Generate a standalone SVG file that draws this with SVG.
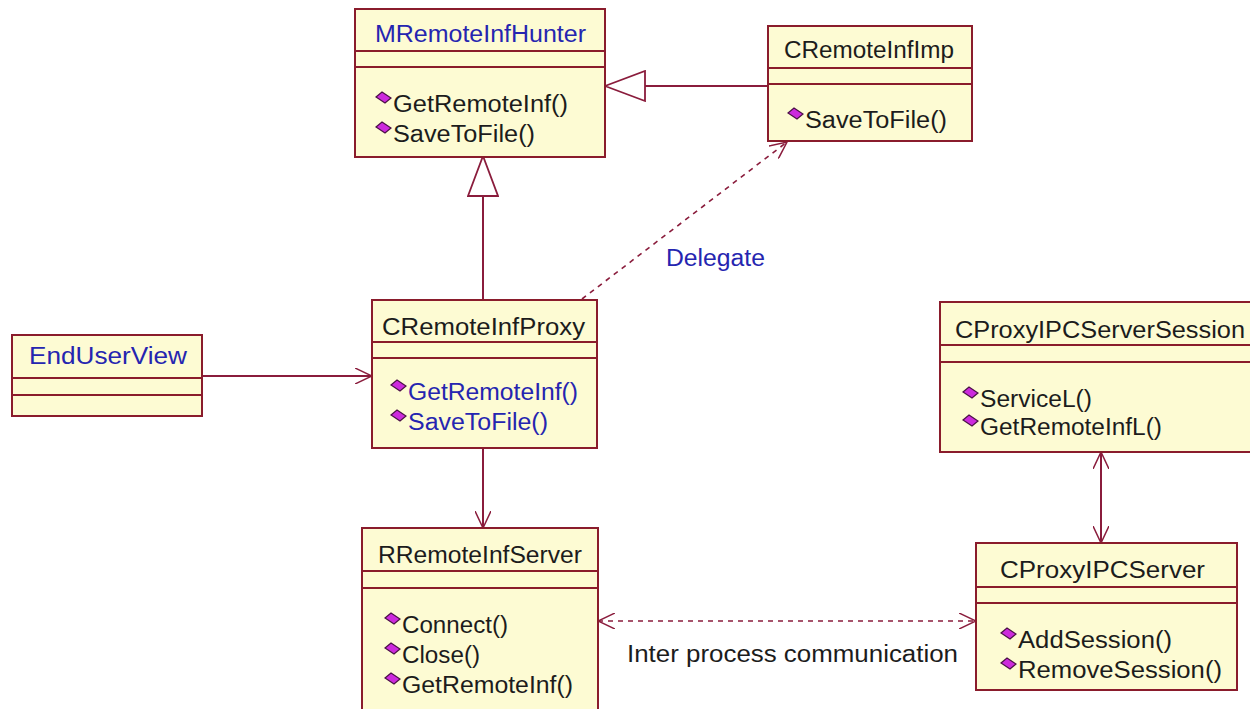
<svg xmlns="http://www.w3.org/2000/svg" width="1250" height="709" viewBox="0 0 1250 709">
<style>
.box{fill:#fdfbd3;stroke:#8a1c2c;stroke-width:2}
.sep{stroke:#8a1c2c;stroke-width:2}
.t{font-family:"Liberation Sans",Arial,sans-serif;font-size:23px;fill:#1c1c1c}
.b{fill:#2525b0}
.conn{stroke:#8a1c3c;stroke-width:2;fill:none}
.dash{stroke-dasharray:5 5;stroke-width:1.6}
.dia{fill:#cc2add;stroke:#4a1046;stroke-width:1.2}
</style>
<defs>
<path id="d" class="dia" d="M-8,-1 L-2,-6 L7,0 L1,5 Z"/>
<marker id="open" viewBox="0 0 18 16" refX="17" refY="8" markerWidth="18" markerHeight="16" markerUnits="userSpaceOnUse" orient="auto-start-reverse"><path d="M0,0 L17,8 L0,16" fill="none" stroke="#8a1c3c" stroke-width="1.5"/></marker>
<marker id="tri" viewBox="0 0 42 32" refX="41" refY="16" markerWidth="42" markerHeight="32" markerUnits="userSpaceOnUse" orient="auto"><path d="M1,1 L41,16 L1,31 Z" fill="#ffffff" stroke="#8a1c3c" stroke-width="1.8"/></marker>
</defs>
<rect width="1250" height="709" fill="#ffffff"/>

<g id="connectors">
<line class="conn" x1="768" y1="86" x2="605" y2="86" marker-end="url(#tri)"/>
<line class="conn" x1="483" y1="300" x2="483" y2="156" marker-end="url(#tri)"/>
<line class="conn" x1="202" y1="376" x2="372" y2="376" marker-end="url(#open)"/>
<line class="conn" x1="483" y1="448" x2="483" y2="528" marker-end="url(#open)"/>
<line class="conn dash" x1="582" y1="299" x2="787" y2="142" marker-end="url(#open)"/>
<line class="conn dash" x1="598" y1="621" x2="976" y2="621" marker-start="url(#open)" marker-end="url(#open)"/>
<line class="conn" x1="1101" y1="452" x2="1101" y2="543" marker-start="url(#open)" marker-end="url(#open)"/>
<text class="t b" x="666" y="266" textLength="99" lengthAdjust="spacingAndGlyphs">Delegate</text>
<text class="t" x="627" y="662" textLength="331" lengthAdjust="spacingAndGlyphs">Inter process communication</text>
</g>

<g id="MRemoteInfHunter">
<rect class="box" x="355" y="9" width="250" height="148"/>
<line class="sep" x1="355" y1="51" x2="605" y2="51"/>
<line class="sep" x1="355" y1="67" x2="605" y2="67"/>
<text class="t b" x="375" y="42" textLength="211" lengthAdjust="spacingAndGlyphs">MRemoteInfHunter</text>
<use href="#d" x="384" y="98"/>
<text class="t" x="393" y="112" textLength="175" lengthAdjust="spacingAndGlyphs">GetRemoteInf()</text>
<use href="#d" x="384" y="128"/>
<text class="t" x="393" y="142" textLength="142" lengthAdjust="spacingAndGlyphs">SaveToFile()</text>
</g>

<g id="CRemoteInfImp">
<rect class="box" x="768" y="26" width="204" height="115"/>
<line class="sep" x1="768" y1="68" x2="972" y2="68"/>
<line class="sep" x1="768" y1="84" x2="972" y2="84"/>
<text class="t" x="784" y="58" textLength="170" lengthAdjust="spacingAndGlyphs">CRemoteInfImp</text>
<use href="#d" x="796" y="114"/>
<text class="t" x="805" y="128" textLength="142" lengthAdjust="spacingAndGlyphs">SaveToFile()</text>
</g>

<g id="EndUserView">
<rect class="box" x="12" y="335" width="190" height="81"/>
<line class="sep" x1="12" y1="378" x2="202" y2="378"/>
<line class="sep" x1="12" y1="395" x2="202" y2="395"/>
<text class="t b" x="29" y="364" textLength="158" lengthAdjust="spacingAndGlyphs">EndUserView</text>
</g>

<g id="CRemoteInfProxy">
<rect class="box" x="372" y="300" width="225" height="148"/>
<line class="sep" x1="372" y1="342" x2="597" y2="342"/>
<line class="sep" x1="372" y1="358" x2="597" y2="358"/>
<text class="t" x="382" y="335" textLength="203" lengthAdjust="spacingAndGlyphs">CRemoteInfProxy</text>
<use href="#d" x="399" y="386"/>
<text class="t b" x="408" y="400" textLength="170" lengthAdjust="spacingAndGlyphs">GetRemoteInf()</text>
<use href="#d" x="399" y="416"/>
<text class="t b" x="408" y="430" textLength="140" lengthAdjust="spacingAndGlyphs">SaveToFile()</text>
</g>

<g id="CProxyIPCServerSession">
<rect class="box" x="940" y="302" width="320" height="150"/>
<line class="sep" x1="940" y1="345" x2="1260" y2="345"/>
<line class="sep" x1="940" y1="362" x2="1260" y2="362"/>
<text class="t" x="955" y="338" textLength="290" lengthAdjust="spacingAndGlyphs">CProxyIPCServerSession</text>
<use href="#d" x="971" y="393"/>
<text class="t" x="980" y="407" textLength="112" lengthAdjust="spacingAndGlyphs">ServiceL()</text>
<use href="#d" x="971" y="421"/>
<text class="t" x="980" y="435" textLength="182" lengthAdjust="spacingAndGlyphs">GetRemoteInfL()</text>
</g>

<g id="RRemoteInfServer">
<rect class="box" x="362" y="528" width="236" height="190"/>
<line class="sep" x1="362" y1="571" x2="598" y2="571"/>
<line class="sep" x1="362" y1="588" x2="598" y2="588"/>
<text class="t" x="378" y="563" textLength="204" lengthAdjust="spacingAndGlyphs">RRemoteInfServer</text>
<use href="#d" x="393" y="619"/>
<text class="t" x="402" y="633" textLength="106" lengthAdjust="spacingAndGlyphs">Connect()</text>
<use href="#d" x="393" y="649"/>
<text class="t" x="402" y="663" textLength="78" lengthAdjust="spacingAndGlyphs">Close()</text>
<use href="#d" x="393" y="679"/>
<text class="t" x="402" y="693" textLength="171" lengthAdjust="spacingAndGlyphs">GetRemoteInf()</text>
</g>

<g id="CProxyIPCServer">
<rect class="box" x="976" y="543" width="261" height="147"/>
<line class="sep" x1="976" y1="587" x2="1237" y2="587"/>
<line class="sep" x1="976" y1="603" x2="1237" y2="603"/>
<text class="t" x="1000" y="578" textLength="205" lengthAdjust="spacingAndGlyphs">CProxyIPCServer</text>
<use href="#d" x="1009" y="634"/>
<text class="t" x="1018" y="648" textLength="154" lengthAdjust="spacingAndGlyphs">AddSession()</text>
<use href="#d" x="1009" y="664"/>
<text class="t" x="1018" y="678" textLength="204" lengthAdjust="spacingAndGlyphs">RemoveSession()</text>
</g>
</svg>
